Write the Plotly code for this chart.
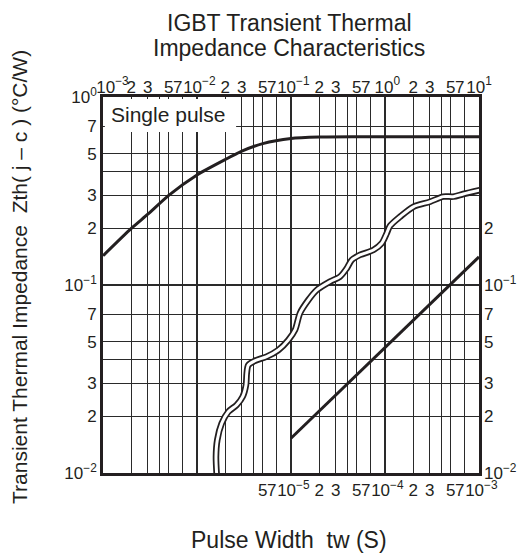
import plotly.graph_objects as go

# ---------------- data ----------------
# IGBT single-pulse transient thermal impedance (top time axis, left Zth axis)
igbt_t = [0.001, 0.002, 0.003, 0.005, 0.01, 0.02, 0.03, 0.05, 0.1, 0.2, 0.5, 1, 10]
igbt_z = [0.143, 0.20, 0.238, 0.30, 0.385, 0.465, 0.515, 0.565, 0.602, 0.612, 0.614, 0.614, 0.614]

# short-pulse region (bottom time axis, right Zth axis - same scale as left)
short_t = [1e-5, 1e-4, 1e-3]
short_z = [0.0153, 0.0465, 0.141]

# wavy double-line separator between the two regions (top time axis, left Zth axis)
sep_t = [0.01622, 0.01592, 0.01644, 0.01832, 0.02153, 0.02642, 0.03062, 0.03319, 0.03381,
         0.03516, 0.04140, 0.05508, 0.07328, 0.09354, 0.1104, 0.1247, 0.1528, 0.1875,
         0.2600, 0.3319, 0.3917, 0.4426, 0.5420, 0.7516, 0.9226, 1.042, 1.130, 1.445,
         2.000, 3.013, 4.169, 5.333, 6.808, 10.26]
sep_z = [0.00975, 0.01222, 0.0150, 0.01837, 0.02118, 0.02301, 0.02547, 0.02938, 0.03388,
         0.03750, 0.03954, 0.04159, 0.04508, 0.05093, 0.05768, 0.07096, 0.08318, 0.09397,
         0.1042, 0.1107, 0.1227, 0.1358, 0.1445, 0.1535, 0.1667, 0.1884, 0.2061, 0.2307,
         0.2606, 0.2773, 0.2951, 0.2951, 0.3048, 0.3199]

# ---------------- ticks ----------------
NB = "\u00a0"
top_ticks = [1e-3, 2e-3, 3e-3, 4e-3, 5e-3, 7e-3,
             1e-2, 2e-2, 3e-2, 4e-2, 5e-2, 7e-2,
             1e-1, 2e-1, 3e-1, 4e-1, 5e-1, 7e-1,
             1e0, 2e0, 3e0, 4e0, 5e0, 7e0, 1e1]
top_labels = [NB * 4 + "10<sup>−3</sup>", "2", "3", "", "5", "7" + NB * 2,
              NB + "10<sup>−2</sup>", "2", "3", "", "5", "7" + NB * 2,
              NB + "10<sup>−1</sup>", "2", "3", "", "5", "7" + NB * 2,
              NB + "10<sup>0</sup>", "2", "3", "", "5", "7" + NB * 2, "10<sup>1</sup>"]

bottom_ticks = [5e-6, 7e-6, 1e-5, 2e-5, 3e-5, 5e-5, 7e-5, 1e-4, 2e-4, 3e-4, 5e-4, 7e-4, 1e-3]
bottom_labels = ["5", "7" + NB * 2, NB + "10<sup>−5</sup>", "2", "3", "5", "7" + NB * 2,
                 NB + "10<sup>−4</sup>", "2", "3", "5", "7" + NB * 2, NB + "10<sup>−3</sup>"]

left_ticks = [0.01, 0.02, 0.03, 0.04, 0.05, 0.07, 0.1, 0.2, 0.3, 0.4, 0.5, 0.7, 1.0]
left_labels = ["10<sup>−2</sup>", "2", "3", "", "5", "7",
               "10<sup>−1</sup>", "2", "3", "", "5", "7", "10<sup>0</sup>"]

right_ticks = [0.01, 0.02, 0.03, 0.05, 0.07, 0.1, 0.2]
right_labels = ["10<sup>−2</sup>", "2", "3", "5", "7", "10<sup>−1</sup>", "2"]

decade_x = [1e-2, 1e-1, 1e0]
decade_y = [0.1]

INK = "#231f20"
FONT = "Liberation Sans, Arial, sans-serif"

fig = go.Figure()

# short-pulse line on the base subplot (bottom x, left y)
fig.add_trace(go.Scatter(x=short_t, y=short_z, xaxis="x", yaxis="y", mode="lines",
                         line=dict(color=INK, width=3), showlegend=False))

# right-hand Zth axis (labels only)
fig.add_trace(go.Scatter(x=[], y=[], xaxis="x", yaxis="y2", mode="lines",
                         showlegend=False, hoverinfo="skip"))

# separator (black outline + white core) on the decade-grid axes x3/y3
fig.add_trace(go.Scatter(x=sep_t, y=sep_z, xaxis="x3", yaxis="y3", mode="lines",
                         line=dict(color=INK, width=6.5, shape="spline", smoothing=0.8),
                         showlegend=False, hoverinfo="skip"))
fig.add_trace(go.Scatter(x=sep_t, y=sep_z, xaxis="x3", yaxis="y3", mode="lines",
                         line=dict(color="white", width=3, shape="spline", smoothing=0.8),
                         showlegend=False, hoverinfo="skip"))

# IGBT curve (top x, left y)
fig.add_trace(go.Scatter(x=igbt_t, y=igbt_z, xaxis="x2", yaxis="y", mode="lines",
                         line=dict(color=INK, width=3, shape="spline", smoothing=0.6),
                         showlegend=False))

tickfont = dict(family=FONT, size=17, color=INK)
gridcol = "#2a2a2a"

# the page body adds an 8 px offset, so the figure is 8 px smaller at top/left
fig.update_layout(
    width=518, height=549,
    margin=dict(l=95, r=47, t=89, b=84, autoexpand=False),
    paper_bgcolor="white", plot_bgcolor="white",
    font=dict(family=FONT, color=INK),
    xaxis=dict(type="log", range=[-7, -3], tickmode="array", tickvals=bottom_ticks,
               ticktext=bottom_labels, showgrid=False, zeroline=False, ticks="",
               showline=True, mirror=True, linewidth=2.7, linecolor=INK,
               tickfont=tickfont, tickangle=0, anchor="y", automargin=False),
    xaxis2=dict(type="log", range=[-3, 1], overlaying="x", side="top", anchor="y",
                tickmode="array", tickvals=top_ticks, ticktext=top_labels,
                showgrid=True, gridcolor=gridcol, gridwidth=1, zeroline=False,
                ticks="", showline=False, tickfont=tickfont, tickangle=0, automargin=False),
    xaxis3=dict(type="log", range=[-3, 1], overlaying="x", anchor="y3",
                tickmode="array", tickvals=decade_x, showticklabels=False,
                showgrid=True, gridcolor=gridcol, gridwidth=2, zeroline=False,
                ticks="", showline=False, automargin=False),
    yaxis=dict(type="log", range=[-2, 0], tickmode="array", tickvals=left_ticks,
               ticktext=left_labels, showgrid=True, gridcolor=gridcol, gridwidth=1,
               zeroline=False, ticks="", showline=True, mirror=True, linewidth=2.7,
               linecolor=INK, tickfont=tickfont, tickangle=0, anchor="x", automargin=False),
    yaxis2=dict(type="log", range=[-2, 0], overlaying="y", side="right", anchor="x",
                tickmode="array", tickvals=right_ticks, ticktext=right_labels,
                showgrid=False, zeroline=False, ticks="", showline=False,
                tickfont=tickfont, tickangle=0, automargin=False, ticklabelstandoff=4),
    yaxis3=dict(type="log", range=[-2, 0], overlaying="y", anchor="x3",
                tickmode="array", tickvals=decade_y, showticklabels=False,
                showgrid=True, gridcolor=gridcol, gridwidth=2, zeroline=False,
                ticks="", showline=False, automargin=False),
)

# white box behind the "Single pulse" label
fig.add_shape(type="rect", xref="paper", yref="paper",
              x0=0.005, x1=0.354, y0=0.907, y1=0.995,
              fillcolor="white", line=dict(width=0), layer="above")

fig.add_annotation(text="Single pulse", xref="paper", yref="paper",
                   x=0.017, y=0.953, xanchor="left", yanchor="middle",
                   showarrow=False, font=dict(family=FONT, size=21, color=INK))

# title (two lines)
fig.add_annotation(text="IGBT Transient Thermal", xref="paper", yref="paper",
                   x=0.4947, y=(473 - 23) / 376, xanchor="center", yanchor="middle",
                   showarrow=False, font=dict(family=FONT, size=23, color=INK))
fig.add_annotation(text="Impedance Characteristics", xref="paper", yref="paper",
                   x=0.4947, y=(473 - 48) / 376, xanchor="center", yanchor="middle",
                   showarrow=False, font=dict(family=FONT, size=23, color=INK))

fig.add_annotation(text="Pulse Width" + NB * 2 + "tw (S)", xref="paper", yref="paper",
                   x=0.4947, y=(473 - 540) / 376, xanchor="center", yanchor="middle",
                   showarrow=False, font=dict(family=FONT, size=23, color=INK))

fig.add_annotation(text="Transient Thermal Impedance" + NB * 2 + "Zth( j – c ) (°C/W)",
                   xref="paper", yref="paper", textangle=-90,
                   x=(19 - 103) / 376, y=(473 - 277) / 376,
                   xanchor="center", yanchor="middle",
                   showarrow=False, font=dict(family=FONT, size=21, color=INK))

fig.write_html("out.html")
